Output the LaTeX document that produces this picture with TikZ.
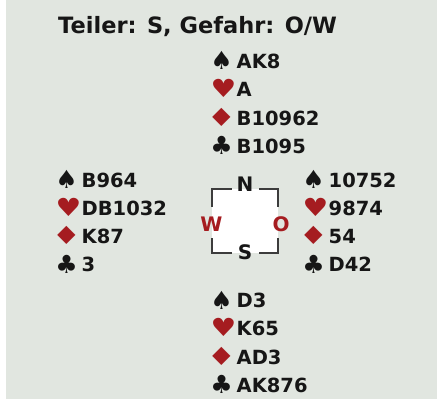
\documentclass[tikz,border=0pt]{standalone}
\usepackage{fontspec}
\setmainfont{DejaVu Sans}
\usetikzlibrary{calc}
\definecolor{bg}{RGB}{225,230,224}
\definecolor{suitred}{RGB}{165,28,32}
\definecolor{ink}{RGB}{22,22,22}
\definecolor{framegray}{RGB}{60,60,60}
\tikzset{
  cards/.style={anchor=base west, inner sep=0pt, font=\fontsize{19.5}{20}\selectfont\bfseries, text=ink},
  suitsym/.style={anchor=base, inner sep=0pt, font=\fontsize{25}{26}\selectfont, text=ink},
  redsuit/.style={suitsym, text=suitred},
  compass/.style={anchor=base, inner sep=0pt, font=\fontsize{20}{21}\selectfont\bfseries},
  bracket/.style={draw=framegray, line width=1.5pt},
}
\newcommand\drawhand[7]{%
  \node[suitsym] (#1sp) at ({#2+8.5},{#3+1.5}) {♠};
  \node[cards] (#1spt) at ({#2+23.5},{#3}) {#4};
  \node[redsuit,xscale=1.15] (#1he) at ({#2+10.5},{#3+29.3}) {♥};
  \node[cards] (#1het) at ({#2+23.5},{#3+28.3}) {#5};
  \node[redsuit,xscale=1.3] (#1di) at ({#2+8.5},{#3+57.6}) {♦};
  \node[cards] (#1dit) at ({#2+23.5},{#3+56.6}) {#6};
  \node[suitsym] (#1cl) at ({#2+8.5},{#3+86.4}) {♣};
  \node[cards] (#1clt) at ({#2+23.5},{#3+84.9}) {#7};
}
\begin{document}
\begin{tikzpicture}[x=1pt,y=-1pt]
  \useasboundingbox (0,0) rectangle (441,401);
  \fill[white] (0,0) rectangle (441,401);
  \fill[bg] (6,0) rectangle (437,399);
  \node[anchor=base west, inner sep=0pt, font=\fontsize{22.5}{24}\selectfont\bfseries, text=ink] (title) at (58,34) {Teiler: S, Gefahr: O/W};
  \drawhand{n}{213}{68.5}{AK8}{A}{B10962}{B1095}
  \drawhand{w}{58}{187}{B964}{DB1032}{K87}{3}
  \drawhand{e}{305}{187}{10752}{9874}{54}{D42}
  \drawhand{s}{213}{307.5}{D3}{K65}{AD3}{AK876}
  \node[fill=white, minimum width=66pt, minimum height=64pt, inner sep=0pt] (box) at (245,221) {};
  \draw[bracket] ($(box.north west)+(20,0)$) -- (box.north west) -- ($(box.north west)+(0,18)$);
  \draw[bracket] ($(box.north east)+(-19,0)$) -- (box.north east) -- ($(box.north east)+(0,18)$);
  \draw[bracket] ($(box.south west)+(0,-15)$) -- (box.south west) -- ($(box.south west)+(20,0)$);
  \draw[bracket] ($(box.south east)+(0,-15)$) -- (box.south east) -- ($(box.south east)+(-19,0)$);
  \node[compass, text=ink] (cn) at (245,191.5) {N};
  \node[compass, text=ink] (cs) at (245,259.5) {S};
  \node[compass, text=suitred] (cw) at (211.5,231) {W};
  \node[compass, text=suitred] (co) at (281,231) {O};
\end{tikzpicture}
\end{document}
